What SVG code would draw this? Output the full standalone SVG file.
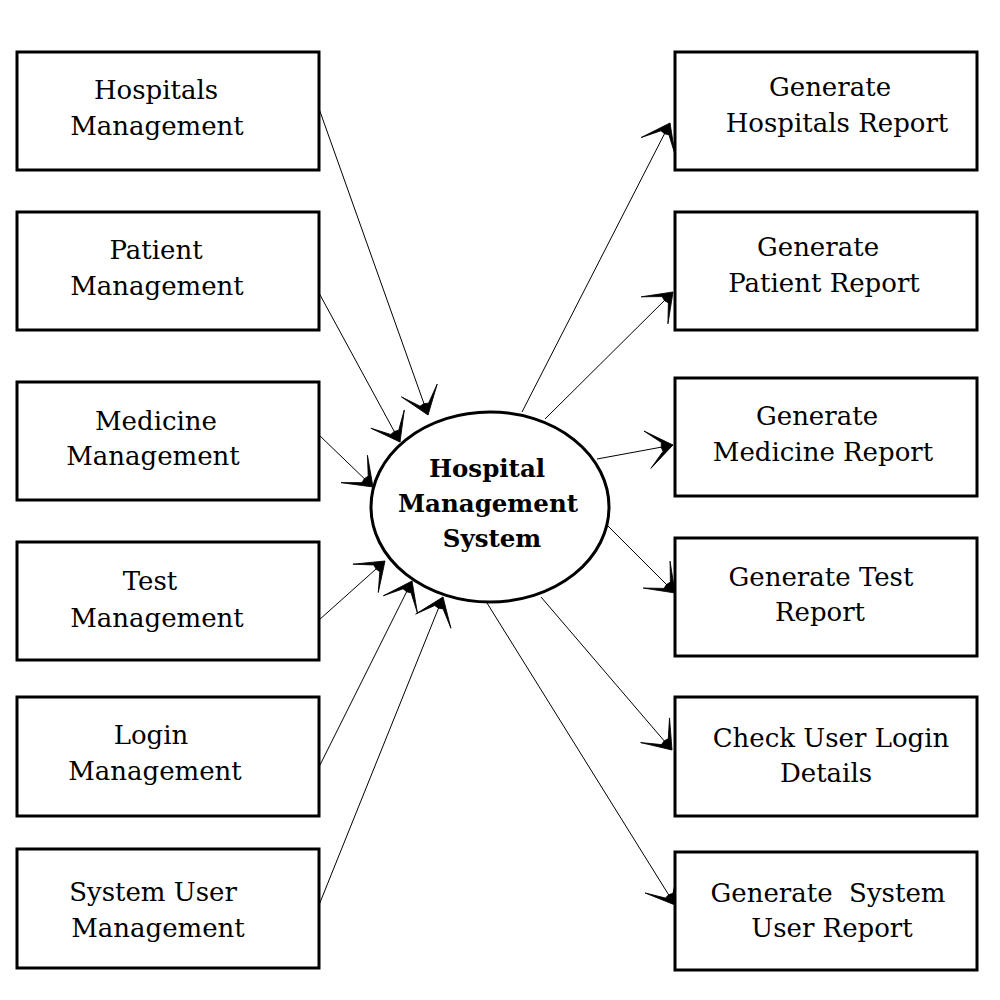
<svg xmlns="http://www.w3.org/2000/svg" width="1000" height="1000" viewBox="0 0 1000 1000">
<style>
  .box { fill: #fff; stroke: #000; stroke-width: 3; }
  .t { font-family: "DejaVu Serif", "Liberation Serif", serif; font-size: 26px; fill: #000; text-anchor: middle; }
  .c { font-family: "DejaVu Serif", "Liberation Serif", serif; font-size: 24.5px; font-weight: bold; fill: #000; text-anchor: middle; }
  .ln { stroke: #000; stroke-width: 1; fill: none; marker-end: url(#barb); }
</style>
<defs>
  <marker id="barb" markerUnits="userSpaceOnUse" markerWidth="40" markerHeight="40" refX="0" refY="0" viewBox="-30 -20 32 40" orient="auto" overflow="visible">
    <path d="M0,0 L-26,-19 L-11,-4.5 L-12,0 L-11,4.5 L-26,19 Z" fill="#000" stroke="#000" stroke-width="0.8" stroke-linejoin="miter"/>
  </marker>
</defs>
<rect width="1000" height="1000" fill="#fff"/>

<g id="connectors">
  <line class="ln" x1="317" y1="103" x2="428" y2="415"/>
  <line class="ln" x1="319" y1="293" x2="400" y2="442"/>
  <line class="ln" x1="319" y1="435" x2="373" y2="487"/>
  <line class="ln" x1="319" y1="620" x2="385" y2="561"/>
  <line class="ln" x1="319" y1="767" x2="412" y2="581"/>
  <line class="ln" x1="317" y1="910" x2="443" y2="597"/>
  <line class="ln" x1="522" y1="412" x2="670" y2="123"/>
  <line class="ln" x1="545" y1="419" x2="673" y2="292"/>
  <line class="ln" x1="597" y1="459" x2="673" y2="445"/>
  <line class="ln" x1="605" y1="523" x2="675" y2="593"/>
  <line class="ln" x1="541" y1="597" x2="672" y2="750"/>
  <line class="ln" x1="487" y1="603" x2="675" y2="905"/>
</g>

<g id="center">
  <ellipse cx="490" cy="507" rx="119" ry="95" fill="#fff" stroke="#000" stroke-width="3"/>
  <text class="c" x="487" y="477">Hospital</text>
  <text class="c" x="488" y="512">Management</text>
  <text class="c" x="492" y="547">System</text>
</g>

<g id="hospitals-management">
  <rect class="box" x="17" y="52" width="302" height="118"/>
  <text class="t" x="156" y="99">Hospitals</text>
  <text class="t" x="157" y="135">Management</text>
</g>
<g id="patient-management">
  <rect class="box" x="17" y="212" width="302" height="118"/>
  <text class="t" x="156" y="259">Patient</text>
  <text class="t" x="157" y="295">Management</text>
</g>
<g id="medicine-management">
  <rect class="box" x="17" y="382" width="302" height="118"/>
  <text class="t" x="156" y="430">Medicine</text>
  <text class="t" x="153" y="465">Management</text>
</g>
<g id="test-management">
  <rect class="box" x="17" y="542" width="302" height="118"/>
  <text class="t" x="150" y="590">Test</text>
  <text class="t" x="157" y="627">Management</text>
</g>
<g id="login-management">
  <rect class="box" x="17" y="697" width="302" height="119"/>
  <text class="t" x="151" y="744">Login</text>
  <text class="t" x="155" y="780">Management</text>
</g>
<g id="system-user-management">
  <rect class="box" x="17" y="849" width="302" height="119"/>
  <text class="t" x="153" y="901">System User</text>
  <text class="t" x="158" y="937">Management</text>
</g>

<g id="generate-hospitals-report">
  <rect class="box" x="675" y="52" width="302" height="118"/>
  <text class="t" x="830" y="96">Generate</text>
  <text class="t" x="837" y="132">Hospitals Report</text>
</g>
<g id="generate-patient-report">
  <rect class="box" x="675" y="212" width="302" height="118"/>
  <text class="t" x="818" y="256">Generate</text>
  <text class="t" x="824" y="292">Patient Report</text>
</g>
<g id="generate-medicine-report">
  <rect class="box" x="675" y="378" width="302" height="118"/>
  <text class="t" x="817" y="425">Generate</text>
  <text class="t" x="823" y="461">Medicine Report</text>
</g>
<g id="generate-test-report">
  <rect class="box" x="675" y="538" width="302" height="118"/>
  <text class="t" x="821" y="586">Generate Test</text>
  <text class="t" x="820" y="621">Report</text>
</g>
<g id="check-user-login-details">
  <rect class="box" x="675" y="697" width="302" height="119"/>
  <text class="t" x="831" y="747">Check User Login</text>
  <text class="t" x="826" y="782">Details</text>
</g>
<g id="generate-system-user-report">
  <rect class="box" x="675" y="852" width="302" height="118"/>
  <text class="t" x="828" y="902" xml:space="preserve">Generate  System</text>
  <text class="t" x="832" y="937">User Report</text>
</g>
</svg>
